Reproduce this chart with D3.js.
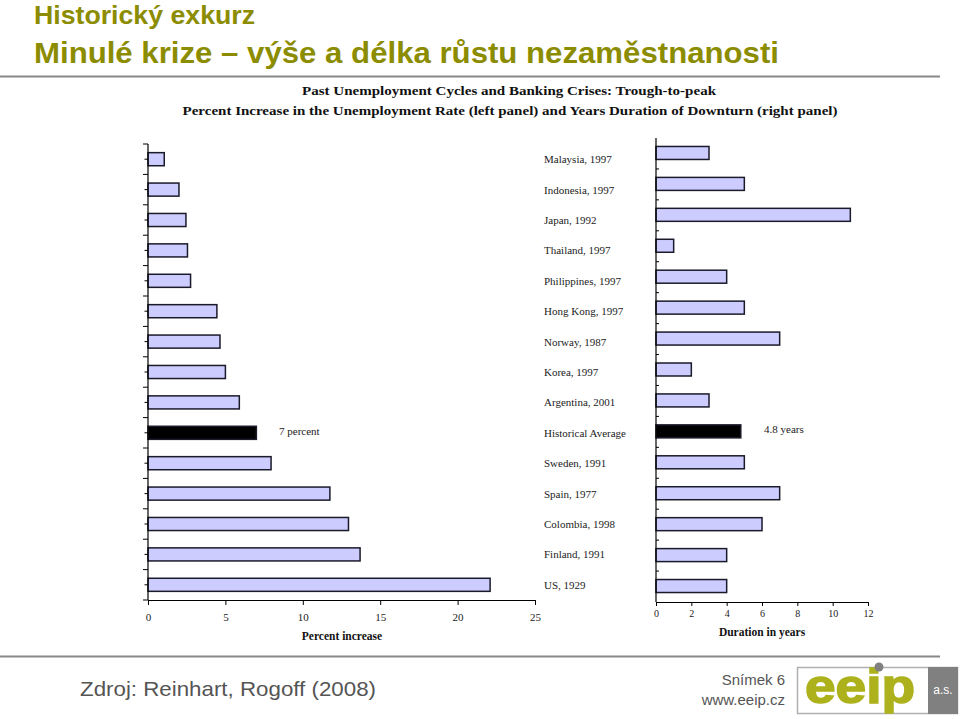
<!DOCTYPE html>
<html><head><meta charset="utf-8">
<script src="https://cdn.jsdelivr.net/npm/d3@7"></script>
<style>html,body{margin:0;padding:0;background:#fff;}svg{display:block;}</style>
</head><body>
<script>
const categories = ["Malaysia, 1997","Indonesia, 1997","Japan, 1992","Thailand, 1997","Philippines, 1997","Hong Kong, 1997","Norway, 1987","Korea, 1997","Argentina, 2001","Historical Average","Sweden, 1991","Spain, 1977","Colombia, 1998","Finland, 1991","US, 1929"];
const percentIncrease = [1.05, 2.0, 2.45, 2.55, 2.75, 4.45, 4.65, 5.0, 5.9, 7.0, 7.95, 11.75, 12.95, 13.7, 22.1];
const durationYears = [3, 5, 11, 1, 4, 5, 7, 2, 3, 4.8, 5, 7, 6, 4, 4];
const leftTicks = [0, 5, 10, 15, 20, 25];
const rightTicks = [0, 2, 4, 6, 8, 10, 12];
const avgLabelLeft = "7 percent";
const avgLabelRight = "4.8 years";

const W = 960, H = 719;
const svg = d3.select("body").append("svg").attr("width", W).attr("height", H);
const olive = "#8c8c00";
const serif = "'Liberation Serif', 'DejaVu Serif', serif";
const sans = "'Liberation Sans', Arial, sans-serif";

// Header
svg.append("text").attr("x", 34).attr("y", 24).attr("font-family", sans).attr("font-weight", "bold")
  .attr("font-size", 26).attr("fill", olive).attr("textLength", 221).attr("lengthAdjust", "spacingAndGlyphs")
  .text("Historický exkurz");
svg.append("text").attr("x", 34).attr("y", 63).attr("font-family", sans).attr("font-weight", "bold")
  .attr("font-size", 30).attr("fill", olive).attr("textLength", 745).attr("lengthAdjust", "spacingAndGlyphs")
  .text("Minulé krize – výše a délka růstu nezaměstnanosti");
svg.append("line").attr("x1", 0).attr("x2", 940).attr("y1", 76.5).attr("y2", 76.5).attr("stroke", "#888").attr("stroke-width", 2);

// Chart titles
svg.append("text").attr("x", 509).attr("y", 95).attr("text-anchor", "middle").attr("font-family", serif)
  .attr("font-weight", "bold").attr("font-size", 13.5).attr("fill", "#111").attr("textLength", 414).attr("lengthAdjust", "spacingAndGlyphs")
  .text("Past Unemployment Cycles and Banking Crises: Trough-to-peak");
svg.append("text").attr("x", 510).attr("y", 115).attr("text-anchor", "middle").attr("font-family", serif)
  .attr("font-weight", "bold").attr("font-size", 13.5).attr("fill", "#111").attr("textLength", 655).attr("lengthAdjust", "spacingAndGlyphs")
  .text("Percent Increase in the Unemployment Rate (left panel) and Years Duration of Downturn (right panel)");

const barFill = "#ccccff";

// Left panel
const xL = d3.scaleLinear().domain([0, 25]).range([148, 535]);
const yL = d3.scaleBand().domain(categories).range([144, 600]).paddingInner(0.57).paddingOuter(0.285);
const gL = svg.append("g");
gL.selectAll("rect").data(categories).join("rect")
  .attr("x", xL(0)).attr("y", d => yL(d))
  .attr("width", (d, i) => xL(percentIncrease[i]) - xL(0)).attr("height", yL.bandwidth())
  .attr("fill", d => d === "Historical Average" ? "#000" : barFill)
  .attr("stroke", "#1a1a2a").attr("stroke-width", 1.5);
gL.append("line").attr("x1", 148).attr("x2", 148).attr("y1", 144).attr("y2", 600).attr("stroke", "#000").attr("stroke-width", 1.2);
const stepL = yL.step();
const tickYsL = d3.range(0, categories.length * 2 + 1).map(k => 144 + k * stepL / 2);
gL.selectAll("line.tk").data(tickYsL).join("line").attr("class", "tk")
  .attr("x1", (d, k) => k % 2 === 0 ? 143 : 144.5).attr("x2", 148).attr("y1", d => d).attr("y2", d => d)
  .attr("stroke", "#000").attr("stroke-width", 1);
const axL = gL.append("g").attr("transform", "translate(0,600)")
  .call(d3.axisBottom(xL).tickValues(leftTicks).tickSize(5).tickSizeOuter(0).tickPadding(8));
axL.select(".domain").attr("stroke", "#000").attr("stroke-width", 1.2);
axL.selectAll("text").attr("font-family", serif).attr("font-size", 11).attr("fill", "#222");
gL.append("text").attr("x", 342).attr("y", 640).attr("text-anchor", "middle").attr("font-family", serif)
  .attr("font-weight", "bold").attr("font-size", 11.5).attr("fill", "#111").text("Percent increase");
gL.append("text").attr("x", 279).attr("y", yL("Historical Average") + yL.bandwidth() / 2 + 2).attr("font-family", serif)
  .attr("font-size", 11).attr("fill", "#222").text(avgLabelLeft);

// Category labels
svg.append("g").selectAll("text").data(categories).join("text")
  .attr("x", 544).attr("y", d => yL(d) + yL.bandwidth() / 2 + 4)
  .attr("font-family", serif).attr("font-size", 11).attr("fill", "#222").text(d => d);

// Right panel
const xR = d3.scaleLinear().domain([0, 12]).range([656, 868]);
const yR = d3.scaleBand().domain(categories).range([138, 602]).paddingInner(0.58).paddingOuter(0.29);
const gR = svg.append("g");
gR.selectAll("rect").data(categories).join("rect")
  .attr("x", xR(0)).attr("y", d => yR(d) - 0.5)
  .attr("width", (d, i) => xR(durationYears[i]) - xR(0)).attr("height", yR.bandwidth())
  .attr("fill", d => d === "Historical Average" ? "#000" : barFill)
  .attr("stroke", "#1a1a2a").attr("stroke-width", 1.5);
gR.append("line").attr("x1", 656).attr("x2", 656).attr("y1", 138).attr("y2", 602).attr("stroke", "#000").attr("stroke-width", 1.2);
const tickYsR = d3.range(1, categories.length).map(k => 138 + k * yR.step());
gR.selectAll("line.tk").data(tickYsR).join("line").attr("class", "tk")
  .attr("x1", 656).attr("x2", 659).attr("y1", d => d).attr("y2", d => d).attr("stroke", "#000").attr("stroke-width", 1);
const axR = gR.append("g").attr("transform", "translate(0,602)")
  .call(d3.axisBottom(xR).tickValues(rightTicks).tickSize(4).tickSizeOuter(0).tickPadding(4));
axR.select(".domain").attr("stroke", "#000").attr("stroke-width", 1.2);
axR.selectAll("text").attr("font-family", serif).attr("font-size", 10).attr("fill", "#222");
gR.append("text").attr("x", 762).attr("y", 636).attr("text-anchor", "middle").attr("font-family", serif)
  .attr("font-weight", "bold").attr("font-size", 11.5).attr("fill", "#111").text("Duration in years");
gR.append("text").attr("x", 764).attr("y", yR("Historical Average") + yR.bandwidth() / 2 + 1).attr("font-family", serif)
  .attr("font-size", 11).attr("fill", "#222").text(avgLabelRight);

// Footer
svg.append("line").attr("x1", 0).attr("x2", 940).attr("y1", 656.5).attr("y2", 656.5).attr("stroke", "#888").attr("stroke-width", 2);
svg.append("text").attr("x", 80).attr("y", 696).attr("font-family", sans).attr("font-size", 21).attr("fill", "#555")
  .attr("textLength", 296).attr("lengthAdjust", "spacingAndGlyphs").text("Zdroj: Reinhart, Rogoff (2008)");
svg.append("text").attr("x", 785).attr("y", 685).attr("text-anchor", "end").attr("font-family", sans).attr("font-size", 15).attr("fill", "#555").text("Snímek 6");
svg.append("text").attr("x", 785).attr("y", 705).attr("text-anchor", "end").attr("font-family", sans).attr("font-size", 15).attr("fill", "#555").text("www.eeip.cz");

// Logo
const logo = svg.append("g");
logo.append("rect").attr("x", 797.5).attr("y", 667.5).attr("width", 160).attr("height", 46).attr("fill", "#fff").attr("stroke", "#b0b0b0").attr("stroke-width", 1.5);
logo.append("rect").attr("x", 928).attr("y", 667).attr("width", 30).attr("height", 47).attr("fill", "#808080");
logo.append("text").attr("x", 943).attr("y", 694).attr("text-anchor", "middle").attr("font-family", sans).attr("font-size", 12).attr("fill", "#fff").text("a.s.");
logo.append("text").attr("x", 805).attr("y", 703).attr("font-family", sans).attr("font-weight", "bold").attr("font-size", 48)
  .attr("fill", "#adb21c").attr("stroke", "#adb21c").attr("stroke-width", 1.5)
  .attr("textLength", 110).attr("lengthAdjust", "spacingAndGlyphs").text("eeip");
logo.append("circle").attr("cx", 879).attr("cy", 667).attr("r", 4.5).attr("fill", "#808080");
</script>
</body></html>
